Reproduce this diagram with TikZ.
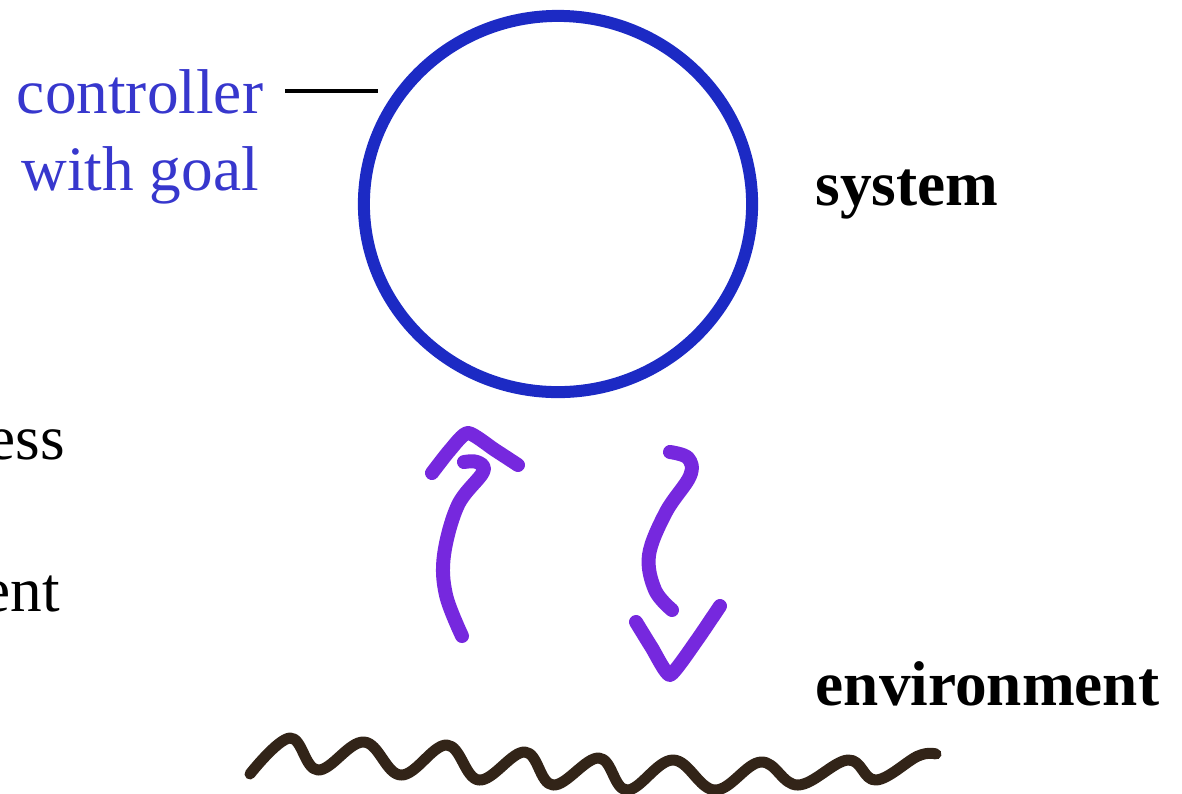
\documentclass[tikz,border=0pt]{standalone}
\usepackage{fontspec}
\setmainfont{Liberation Serif}
\usepackage{tikz}
\usetikzlibrary{positioning, shapes.geometric}

\definecolor{sysblue}{RGB}{28,42,196}
\definecolor{labelblue}{RGB}{55,55,205}
\definecolor{flowpurple}{RGB}{118,40,222}
\definecolor{wavebrown}{RGB}{50,36,24}

\begin{document}
\begin{tikzpicture}[x=0.01cm, y=-0.01cm,
    every node/.style={font=\fontsize{18}{22}\selectfont, inner sep=0pt},
    sidelabel/.style={anchor=base west, text=black, font=\fontsize{18}{22}\selectfont\bfseries},
    flow/.style={flowpurple, line width=0.14cm, line cap=round, line join=round}]

        \useasboundingbox (0,0) rectangle (1182,793);

        % Draw system circle
        \node[ellipse, draw=sysblue, line width=0.12cm, minimum width=3.88cm, minimum height=3.76cm] (sys) at (558,204) {};

        % Controller label
        \node[anchor=base, text=labelblue] (ctrl) at (140,113) {controller};
        \node[anchor=base, text=labelblue] (goal) at (140,190) {with goal};
        \coordinate (tickL) at (285,91);
        \coordinate (tickR) at (378,91);
        \draw[black, line width=0.9pt] (tickL) -- (tickR);

        % Side labels
        \node[sidelabel] (system) at (815,205) {system};
        \node[sidelabel] (env) at (815,705) {environment};

        % Cut-off labels at the left edge
        \node[anchor=base west] (ess) at (-13,459) {ess};
        \node[anchor=base west] (ent) at (-18,611) {ent};

        % Upward arrow
        \draw[flow] plot[smooth, tension=0.6] coordinates {(462,636) (446,595) (444,555) (458,505) (483,472) (477,462) (464,462)};
        \draw[flow] plot[smooth, tension=0.4] coordinates {(432,473) (450,450) (468,433) (495,450) (518,465)};

        % Downward arrow
        \draw[flow] plot[smooth, tension=0.6] coordinates {(670,452) (688,458) (690,476) (666,512) (649,555) (655,590) (672,610)};
        \draw[flow] plot[smooth, tension=0.3] coordinates {(636,622) (652,648) (670,675) (697,640) (720,606)};

        % Environment wave
        \draw[wavebrown, line width=0.11cm, line cap=round, line join=round] plot[smooth, tension=0.65] coordinates {
            (250,774) (290,738) (318,770) (364,742) (401,775) (447,745)
            (479,780) (525,752) (553,785) (599,758) (627,790) (673,760)
            (715,790) (761,762) (798,785) (848,760) (876,780) (918,756) (936,754)};

\end{tikzpicture}
\end{document}
